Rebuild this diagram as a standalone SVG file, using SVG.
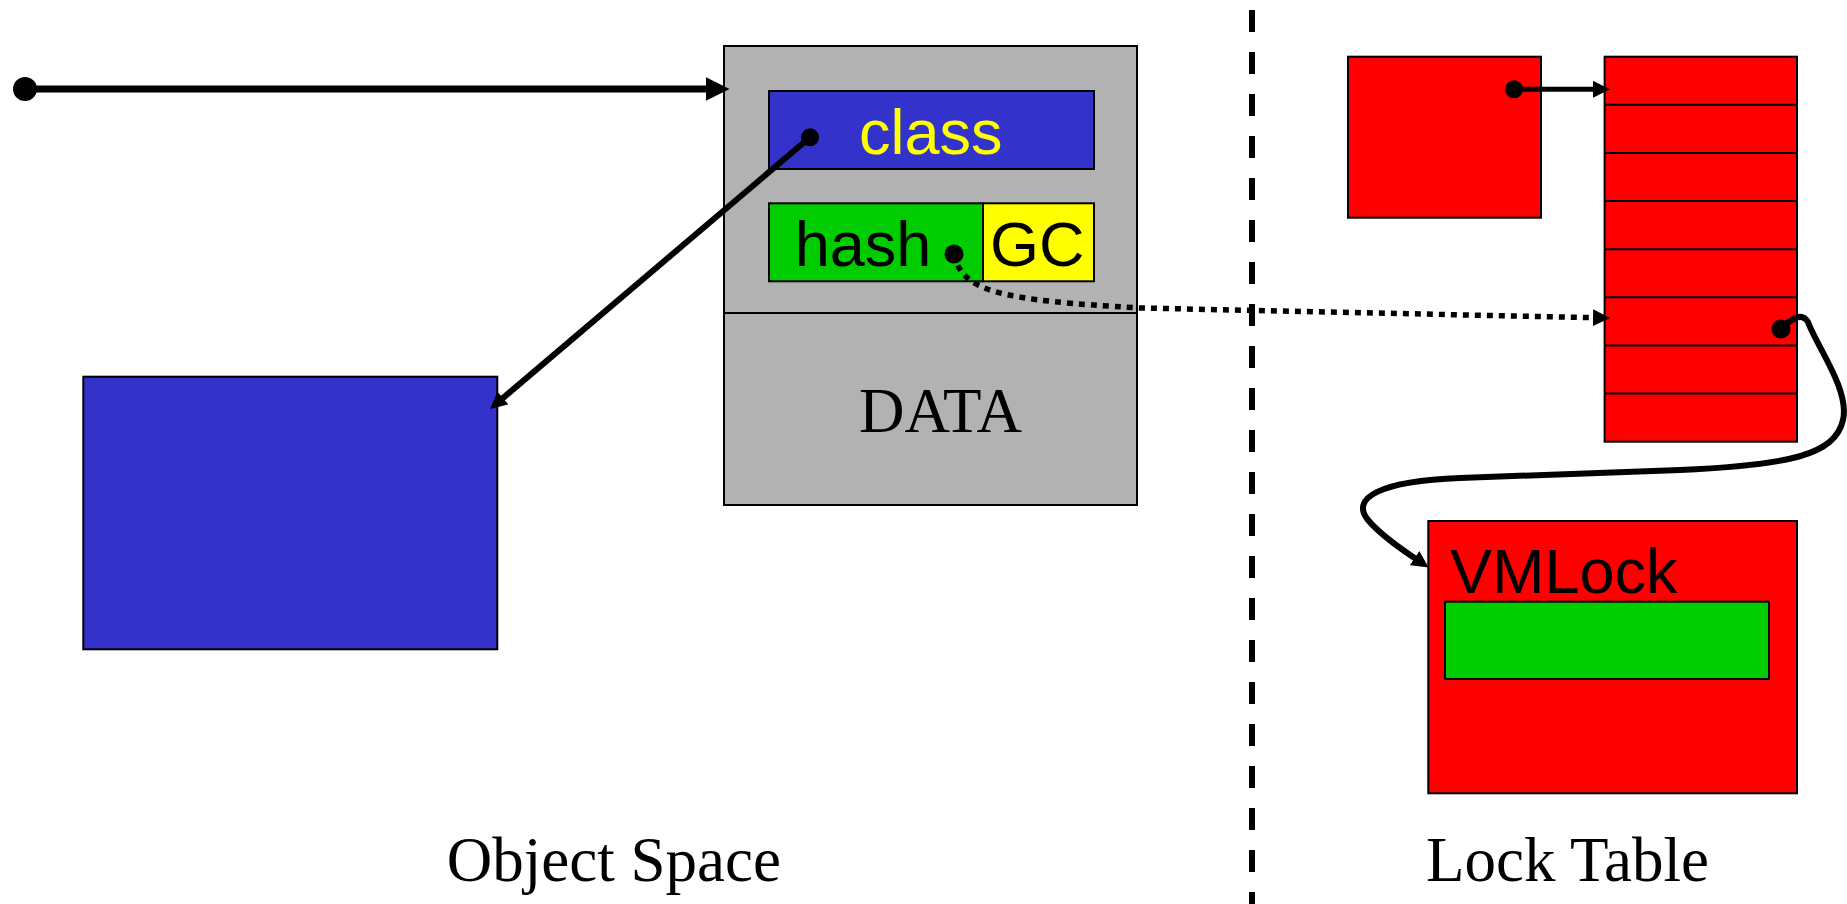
<svg xmlns="http://www.w3.org/2000/svg" width="1847" height="904" viewBox="0 0 1847 904">
<style>
.box{stroke:#000;stroke-width:2}
.gray{fill:#B2B2B2}
.blue{fill:#3333CC}
.green{fill:#00CC00}
.yellow{fill:#FFFF00}
.red{fill:#FF0000}
.sans{font-family:"Liberation Sans",Arial,sans-serif;font-size:63px}
.serif{font-family:"Liberation Serif","Times New Roman",serif;font-size:63px;fill:#000}
.conn{fill:none;stroke:#000;stroke-linecap:butt}
.dot{fill:#000}
</style>
<defs>
<marker id="a17" viewBox="0 0 10 10" refX="1" refY="5" markerUnits="userSpaceOnUse" markerWidth="17" markerHeight="17" orient="auto">
<path d="M0,0 L10,5 L0,10 z" fill="#000"/>
</marker>
<marker id="a24" viewBox="0 0 10 10" refX="1" refY="5" markerUnits="userSpaceOnUse" markerWidth="24" markerHeight="24" orient="auto">
<path d="M0,0 L10,5 L0,10 z" fill="#000"/>
</marker>
</defs>
<rect width="1847" height="904" fill="#fff"/>

<g id="divider">
<line x1="1252" y1="10" x2="1252" y2="904" stroke="#000" stroke-width="6" stroke-dasharray="22 20"/>
</g>

<g id="object">
<rect class="box gray" x="724" y="46" width="413" height="459"/>
<line x1="724" y1="313" x2="1137" y2="313" stroke="#000" stroke-width="2"/>
<text class="serif" x="940.5" y="431.7" text-anchor="middle">DATA</text>
</g>
<g id="class-field">
<rect class="box blue" x="769" y="91" width="325" height="78"/>
<text class="sans" x="930.8" y="154.3" text-anchor="middle" fill="#FFFF00">class</text>
</g>
<g id="hash-field">
<rect class="box green" x="769" y="203.3" width="214" height="78"/>
<text class="sans" x="863" y="265.7" text-anchor="middle" fill="#000">hash</text>
</g>
<g id="gc-field">
<rect class="box yellow" x="983" y="203.3" width="111" height="78"/>
<text class="sans" x="1037.3" y="265.7" text-anchor="middle" fill="#000">GC</text>
</g>
<g id="class-object">
<rect class="box blue" x="83.3" y="376.7" width="414" height="272.6"/>
</g>
<g id="thread">
<rect class="box red" x="1348" y="56.7" width="193" height="161"/>
</g>
<g id="lock-table">
<rect class="box red" x="1604.6" y="56.7" width="192.4" height="385"/>
<g stroke="#000" stroke-width="2">
<line x1="1604.6" y1="104.8" x2="1797" y2="104.8"/>
<line x1="1604.6" y1="152.9" x2="1797" y2="152.9"/>
<line x1="1604.6" y1="201.1" x2="1797" y2="201.1"/>
<line x1="1604.6" y1="249.2" x2="1797" y2="249.2"/>
<line x1="1604.6" y1="297.3" x2="1797" y2="297.3"/>
<line x1="1604.6" y1="345.4" x2="1797" y2="345.4"/>
<line x1="1604.6" y1="393.6" x2="1797" y2="393.6"/>
</g>
</g>
<g id="vmlock">
<rect class="box red" x="1428.3" y="521" width="368.7" height="272.3"/>
<text class="sans" x="1450" y="593.3" fill="#000">VMLock</text>
<rect class="box green" x="1445" y="601.7" width="324" height="77.3"/>
</g>

<g id="labels">
<text class="serif" x="613.9" y="880.7" text-anchor="middle">Object Space</text>
<text class="serif" x="1567.5" y="880.7" text-anchor="middle">Lock Table</text>
</g>

<g id="connectors">
<line class="conn" x1="25" y1="89" x2="708" y2="89" stroke-width="7" marker-end="url(#a24)"/>
<circle class="dot" cx="25" cy="89" r="12"/>
<line class="conn" x1="810" y1="137.3" x2="501.7" y2="399.1" stroke-width="6" marker-end="url(#a17)"/>
<circle class="dot" cx="810" cy="137.3" r="9"/>
<path class="conn" d="M954,254 C962,292 1000,300 1140,308 L1594.7,317.7" stroke-width="5.5" stroke-dasharray="6 6" marker-end="url(#a17)"/>
<circle class="dot" cx="954" cy="254" r="9.5"/>
<line class="conn" x1="1514" y1="89.3" x2="1594.7" y2="89.3" stroke-width="5" marker-end="url(#a17)"/>
<circle class="dot" cx="1514" cy="89.3" r="9"/>
<path class="conn" d="M1781,329 C1792,318 1802,312 1808,322 C1816,345 1850,390 1843,420 C1835,455 1790,465 1680,470 L1460,478 C1380,481 1350,498 1368,520 C1378,532 1395,545 1416,559" stroke-width="6" marker-end="url(#a17)"/>
<circle class="dot" cx="1781" cy="329" r="9.5"/>
</g>
</svg>
